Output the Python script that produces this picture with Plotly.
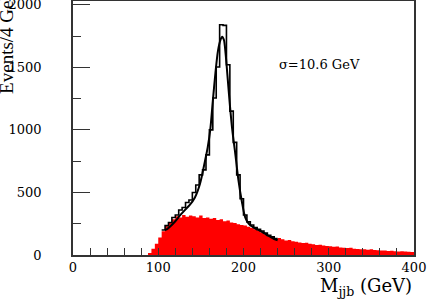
import plotly.graph_objects as go

# ---- data ----
bin_width = 4
bkg_start = 88
background = [15, 50, 90, 140, 190, 230, 255, 285, 310, 300, 320, 305, 315, 310, 300, 315,
              295, 300, 290, 295, 280, 285, 270, 275, 260, 255, 245, 240, 235, 225, 215, 205,
              195, 180, 165, 150, 140, 130, 135, 125, 115, 120, 110, 105, 100, 95, 98, 90,
              85, 80, 82, 75, 72, 70, 65, 68, 60, 58, 55, 57, 50, 48, 45, 46,
              42, 45, 40, 38, 35, 36, 32, 33, 30, 28, 30, 27, 25, 24]

tot_start = 104
total = [200, 235, 260, 300, 320, 360, 380, 420, 440, 500, 560, 640, 680, 800, 1000, 1255,
         1502, 1840, 1835, 1520, 1150, 900, 640, 450, 320, 265, 240, 220, 205, 192, 175, 157,
         145, 132]

fit_x = [108, 110, 114, 120, 126, 132, 137, 143, 149, 155, 158, 161, 164, 167, 170, 173, 175,
         177, 179, 181, 184, 187, 190, 194, 198, 202, 206, 212, 218, 224, 230, 236, 240]
fit_y = [200, 205, 228, 270, 320, 365, 400, 460, 570, 757, 860, 1000, 1230, 1450, 1630, 1720, 1745,
         1720, 1610, 1450, 1200, 990, 830, 600, 430, 300, 250, 218, 198, 175, 150, 128, 118]

x_ticks = [0, 100, 200, 300, 400]
y_ticks = [0, 500, 1000, 1500, 2000]
sigma_label = "σ=10.6 GeV"

# ---- build step outlines ----
bkg_edges = [bkg_start + i * bin_width for i in range(len(background) + 1)]
bkg_vals = background + [background[-1]]
tot_edges = [tot_start + i * bin_width for i in range(len(total) + 1)]
tot_vals = total + [total[-1]]

fig = go.Figure()
fig.add_trace(go.Scatter(x=bkg_edges, y=bkg_vals, mode="lines", line_shape="hv",
                         line=dict(color="#ff0000", width=0), fill="tozeroy",
                         fillcolor="#ff0000", hoverinfo="skip"))
fig.add_trace(go.Scatter(x=tot_edges, y=tot_vals, mode="lines", line_shape="hv",
                         line=dict(color="black", width=1.6), hoverinfo="skip"))
fig.add_trace(go.Scatter(x=fit_x, y=fit_y, mode="lines", line_shape="spline",
                         line=dict(color="black", width=2, smoothing=0.8), hoverinfo="skip"))

font_family = "DejaVu Serif"
fig.update_layout(
    width=427, height=300,
    margin=dict(l=73, r=13, t=1, b=45, pad=0),
    paper_bgcolor="white", plot_bgcolor="white",
    showlegend=False,
    font=dict(family=font_family, size=13, color="black"),
    xaxis=dict(range=[0, 400], tickvals=x_ticks, ticktext=[str(v) for v in x_ticks],
               ticks="inside", ticklen=7, tickcolor="#333", tickwidth=1,
               minor=dict(dtick=20, ticks="inside", ticklen=7, tickcolor="#333", tickwidth=1),
               showline=True, linecolor="#333", linewidth=1.5, mirror=True,
               showgrid=False, zeroline=False, ticklabelstandoff=0, automargin=False,
               ticklabeloverflow="allow",
               tickfont=dict(family=font_family, size=13)),
    yaxis=dict(range=[0, 2030], tickvals=y_ticks, ticktext=[str(v) for v in y_ticks],
               ticks="inside", ticklen=17, tickcolor="#333", tickwidth=1,
               minor=dict(dtick=250, ticks="inside", ticklen=8, tickcolor="#333", tickwidth=1),
               showline=True, linecolor="#333", linewidth=1.5, mirror=True,
               showgrid=False, zeroline=False, ticklabelstandoff=27, automargin=False,
               ticklabeloverflow="allow",
               tickfont=dict(family=font_family, size=13)),
)

fig.add_annotation(x=239, y=1523, xref="x", yref="y", text=sigma_label, showarrow=False,
                   xanchor="left", yanchor="middle",
                   font=dict(family=font_family, size=13, color="black"))
fig.add_annotation(x=1, y=-0.126, xref="paper", yref="paper",
                   text="M<sub>jjb</sub> (GeV)", showarrow=False,
                   xanchor="right", yanchor="middle",
                   font=dict(family=font_family, size=18, color="black"))
fig.add_annotation(x=-0.195, y=0.845, xref="paper", yref="paper",
                   text="Events/4 GeV", showarrow=False, textangle=-90,
                   xanchor="center", yanchor="middle",
                   font=dict(family="Liberation Serif", size=19, color="black"))

fig.write_html("out.html", config={"displayModeBar": False},
               post_script="document.body.style.margin='0';")
